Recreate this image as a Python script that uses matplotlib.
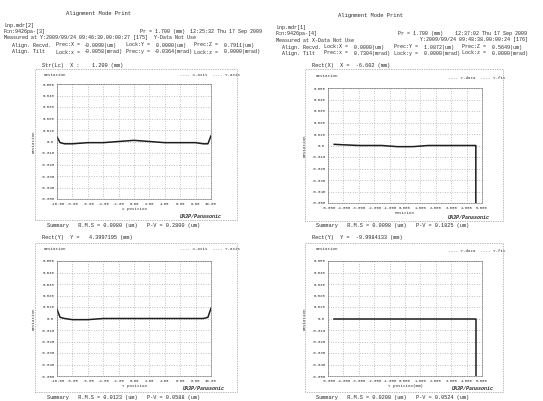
import matplotlib
matplotlib.use('Agg')
import matplotlib.pyplot as plt
from matplotlib.patches import Rectangle

W, H = 543, 401
INK = '#2a2a2a'
FONT = 'Liberation Mono'

# ---- data ----
x_left = [-10, -9.6, -9, -8, -6, -4, -2, 0, 2, 4, 6, 8, 9, 9.6, 10]
y_left_top = [0.004, -0.001, -0.002, -0.002, -0.001, -0.001, 0.000, 0.001, 0.000, -0.001, -0.001, -0.001, -0.002, -0.002, 0.005]
y_left_bot = [0.008, 0.001, 0.000, -0.001, -0.001, 0.000, 0.000, 0.000, 0.000, 0.000, 0.000, 0.000, 0.000, 0.001, 0.009]

x_right = [-4.6, -3, -1.5, -0.5, 0.5, 1.5, 3, 4.6, 4.6]
y_right_top = [0.001, 0.000, 0.000, -0.001, -0.001, 0.000, 0.000, 0.000, -0.050]
y_right_bot = [0.000, 0.000, 0.000, 0.000, 0.000, 0.000, 0.000, 0.000, -0.050]

left_xticks = [-10, -8, -6, -4, -2, 0, 2, 4, 6, 8, 10]
right_xticks = [-5, -4, -3, -2, -1, 0, 1, 2, 3, 4, 5]
yticks = [0.05, 0.04, 0.03, 0.02, 0.01, 0.0, -0.01, -0.02, -0.03, -0.04, -0.05]

fig = plt.figure(figsize=(W / 100, H / 100), dpi=100)
fig.patch.set_facecolor('white')


def txt(x, y, s, size=3.6, **kw):
    kw.setdefault('family', FONT)
    fig.text(x / W, 1 - y / H, s, fontsize=size, color=INK, va='center', ha='left', **kw)


def frame(x0, y0, x1, y1):
    fig.add_artist(Rectangle((x0 / W, 1 - y1 / H), (x1 - x0) / W, (y1 - y0) / H,
                             transform=fig.transFigure, fill=False, ec='#777777',
                             lw=0.5, ls=(0, (1, 1.5))))


def panel(box, xs, ys, xticks, xfmt, xlabel):
    x0, y0, x1, y1 = box
    ax = fig.add_axes([x0 / W, 1 - y1 / H, (x1 - x0) / W, (y1 - y0) / H])
    ax.plot(xs, ys, color='#1e1e1e', lw=1.1)
    ax.set_xlim(xticks[0], xticks[-1])
    ax.set_ylim(-0.05, 0.05)
    ax.set_xticks(xticks)
    ax.set_yticks(yticks)
    ax.set_xticklabels([xfmt % v for v in xticks], fontsize=2.8, family=FONT, color=INK)
    ax.set_yticklabels(['%.3f' % v if v != 0 else '0.0' for v in yticks],
                       fontsize=2.8, family=FONT, color=INK)
    ax.tick_params(length=0, pad=2)
    ax.grid(True, color='#8a8a8a', lw=0.5, ls=(0, (1, 2.5)))
    for s in ax.spines.values():
        s.set_color('#666666')
        s.set_linewidth(0.5)
        s.set_linestyle((0, (1, 1.5)))
    ax.set_xlabel(xlabel, fontsize=3.0, family=FONT, color=INK, labelpad=1)
    ax.set_ylabel('Deviation', fontsize=3.0, family=FONT, color=INK, labelpad=3)
    return ax


def align_row(x0, y, label, cols):
    # one "Align." row: label, then three name/value columns
    txt(x0, y, label)
    for cx, name, val in cols:
        txt(cx, y, name)
        txt(cx + 27, y, val)


# ---------------- left page ----------------
txt(66, 13, 'Alignment Mode Print', 4.0)
txt(4, 25, 'Lnp.mdr[2]')
txt(4, 31, 'Fcn:9426pa-[3]')
txt(140, 31, 'Pr = 1.700 (mm)')
txt(190, 31, '12:25:32 Thu 17 Sep 2009')
txt(4, 38, 'Measured at Y:2009/09/24 09:46:30.00:00:27 [175]  Y-Data Not Use')
align_row(12, 45, 'Align. Recvd.', [(56, 'Prec:X =', '-0.0090(um)'),
                                    (126, 'Lock:Y =', ' 0.0000(um)'),
                                    (194, 'Prec:Z =', ' 0.7911(um)')])
align_row(12, 52, 'Align. Tilt', [(56, 'Lock:x =', '-0.0058(mrad)'),
                                  (126, 'Prec:y =', '-0.0364(mrad)'),
                                  (194, 'Lock:z =', ' 0.0000(mrad)')])

frame(35, 69, 237, 220)
txt(42, 66, 'Str(Lc)  X :    1.200 (mm)', 3.8)
txt(44, 75, 'Deviation', 3.0)
txt(180, 75, '---- X-axis  ---- Y-axis', 3.0)
panel((57, 84, 211, 199), x_left, y_left_top, left_xticks, '%.2f', 'X position')
txt(180, 216, 'UA3P/Panasonic', 3.6, weight='bold', style='italic')
txt(47, 225, 'Summary   R.M.S = 0.0080 (um)   P-V = 0.2800 (um)', 3.8)

frame(35, 243, 237, 392)
txt(42, 238, 'Rect(Y)  Y =   4.3997195 (mm)', 3.8)
txt(44, 249, 'Deviation', 3.0)
txt(180, 249, '---- X-axis  ---- Y-axis', 3.0)
panel((57, 261, 211, 376), x_left, y_left_bot, left_xticks, '%.2f', 'Y position')
txt(183, 389, 'UA3P/Panasonic', 3.6, weight='bold', style='italic')
txt(47, 398, 'Summary   R.M.S = 0.0123 (um)   P-V = 0.0588 (um)', 3.8)

# ---------------- right page ----------------
txt(338, 16, 'Alignment Mode Print', 4.0)
txt(276, 27, 'Lnp.mdr[1]')
txt(276, 33, 'Fcn:9426pa-[4]')
txt(398, 33, 'Pr = 1.700 (mm)')
txt(455, 33, '12:37:02 Thu 17 Sep 2009')
txt(276, 40, 'Measured at X-Data Not Use')
txt(420, 40, 'Y:2009/09/24 09:48:38.00:00:24 [176]')
align_row(282, 47, 'Align. Recvd.', [(324, 'Lock:X =', ' 0.0000(um)'),
                                     (394, 'Prec:Y =', ' 1.0872(um)'),
                                     (462, 'Prec:Z =', ' 0.5649(um)')])
align_row(282, 53, 'Align. Tilt', [(324, 'Prec:x =', ' 0.7304(mrad)'),
                                   (394, 'Lock:y =', ' 0.0000(mrad)'),
                                   (462, 'Lock:z =', ' 0.0000(mrad)')])

frame(305, 69, 503, 221)
txt(312, 66, 'Rect(X)  X =  -6.602 (mm)', 3.8)
txt(316, 76, 'Deviation', 3.0)
txt(448, 78, '---- Y-data  ---- Y-fit', 3.0)
panel((328, 88, 482, 203), x_right, y_right_top, right_xticks, '%.3f', 'Position')
txt(448, 217, 'UA3P/Panasonic', 3.6, weight='bold', style='italic')
txt(316, 225, 'Summary   R.M.S = 0.0098 (um)   P-V = 0.1825 (um)', 3.8)

frame(305, 243, 503, 392)
txt(312, 237, 'Rect(Y)  Y =  -9.9984133 (mm)', 3.8)
txt(316, 249, 'Deviation', 3.0)
txt(448, 251, '---- Y-data  ---- Y-fit', 3.0)
panel((328, 261, 482, 376), x_right, y_right_bot, right_xticks, '%.3f', 'Y position(mm)')
txt(452, 389, 'UA3P/Panasonic', 3.6, weight='bold', style='italic')
txt(316, 398, 'Summary   R.M.S = 0.0208 (um)   P-V = 0.0524 (um)', 3.8)

fig.savefig('out.png', dpi=100, facecolor='white')
